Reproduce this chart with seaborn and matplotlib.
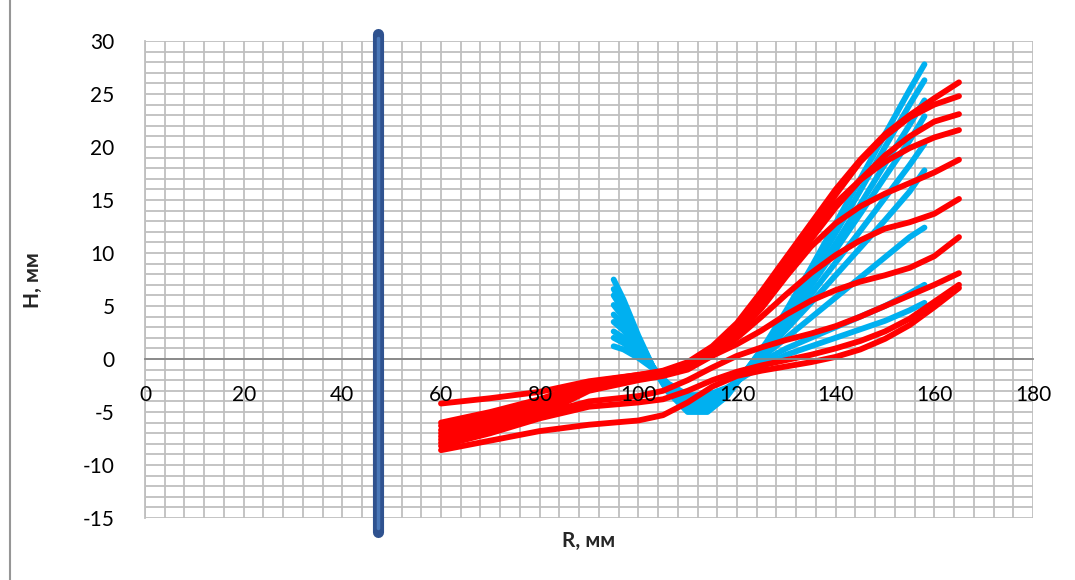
import pandas as pd
import seaborn as sns
import matplotlib.pyplot as plt
from matplotlib.lines import Line2D
from matplotlib.ticker import MultipleLocator

# blue family (start at R=95)
r_blue = [95, 97, 100, 103, 106, 110, 114, 118, 122, 126, 130, 135, 140, 145, 150, 155, 158]
blue_1 = [7.5, 5.6, 2.2, -0.8, -3.1, -5.0, -5.0, -3.5, -1.0, 1.6, 4.6, 8.6, 12.8, 17.0, 21.2, 25.4, 27.8]
blue_2 = [6.6, 5.0, 2.0, -0.8, -3.0, -4.8, -4.8, -3.4, -1.0, 1.4, 4.2, 8.0, 11.9, 15.9, 20.0, 24.0, 26.3]
blue_3 = [6.0, 4.5, 1.8, -0.8, -2.9, -4.6, -4.6, -3.3, -1.0, 1.2, 3.8, 7.3, 10.9, 14.6, 18.4, 22.1, 24.4]
blue_4 = [5.1, 3.9, 1.5, -0.8, -2.8, -4.4, -4.4, -3.2, -1.0, 1.1, 3.6, 6.9, 10.3, 13.7, 17.2, 20.6, 22.9]
blue_5 = [4.2, 3.2, 1.2, -0.8, -2.7, -4.2, -4.2, -3.1, -1.0, 1.0, 3.2, 6.1, 9.1, 12.1, 15.2, 18.3, 20.3]
blue_6 = [3.5, 2.7, 1.0, -0.8, -2.6, -4.0, -4.0, -3.0, -1.0, 0.9, 2.8, 5.3, 7.9, 10.5, 13.1, 15.8, 17.8]
blue_7 = [2.6, 2.0, 0.7, -0.8, -2.5, -3.8, -3.8, -2.9, -1.2, 0.5, 2.0, 3.9, 5.8, 7.7, 9.6, 11.5, 12.4]
blue_8 = [2.0, 1.5, 0.4, -0.9, -2.4, -3.6, -3.6, -2.8, -1.4, 0.0, 1.0, 2.0, 3.0, 4.0, 5.0, 6.2, 7.0]
blue_9 = [1.2, 0.9, 0.1, -0.9, -2.3, -3.4, -3.4, -2.7, -1.5, -0.5, 0.4, 1.2, 2.0, 2.8, 3.6, 4.6, 5.3]

# red family (start at R=60)
r_red = [60, 70, 80, 90, 100, 105, 110, 115, 120, 125, 130, 135, 140, 145, 150, 155, 160, 165]
red_1 = [-6.0, -5.0, -3.8, -2.2, -1.5, -1.1, -0.3, 1.2, 3.4, 6.4, 9.6, 12.8, 16.0, 18.8, 21.2, 23.0, 24.6, 26.1]
red_2 = [-6.3, -5.3, -4.1, -2.3, -1.6, -1.2, -0.5, 1.0, 3.0, 5.8, 8.9, 12.2, 15.5, 18.6, 21.0, 22.8, 24.0, 24.8]
red_3 = [-6.7, -5.6, -4.4, -2.4, -1.7, -1.3, -0.7, 0.7, 2.6, 5.0, 8.0, 11.3, 14.3, 16.9, 19.2, 21.0, 22.4, 23.1]
red_4 = [-7.0, -5.9, -4.7, -2.6, -1.8, -1.4, -0.8, 0.5, 2.4, 5.0, 8.4, 11.9, 14.7, 16.9, 18.6, 19.9, 20.9, 21.6]
red_5 = [-7.3, -6.2, -5.0, -2.8, -1.9, -1.5, -0.9, 0.4, 2.3, 4.8, 7.8, 10.6, 12.8, 14.4, 15.6, 16.6, 17.6, 18.8]
red_6 = [-7.6, -6.5, -5.3, -3.0, -2.0, -1.6, -1.0, 0.3, 2.0, 4.0, 6.1, 8.1, 9.8, 11.2, 12.3, 12.9, 13.7, 15.1]
red_7 = [-4.2, -3.7, -3.1, -2.1, -1.5, -1.2, -0.7, 0.3, 1.4, 2.7, 4.2, 5.5, 6.5, 7.3, 7.9, 8.6, 9.7, 11.5]
red_8 = [-7.9, -6.6, -5.2, -4.0, -3.5, -3.0, -2.0, -0.8, 0.3, 1.1, 1.8, 2.4, 3.1, 4.0, 5.0, 6.0, 7.0, 8.1]
red_9 = [-8.2, -7.0, -5.6, -4.5, -4.1, -3.8, -3.0, -2.0, -1.2, -0.6, -0.1, 0.4, 1.0, 1.7, 2.6, 3.8, 5.4, 7.0]
red_10 = [-8.6, -7.7, -6.8, -6.2, -5.8, -5.3, -4.1, -2.6, -1.6, -1.1, -0.7, -0.3, 0.2, 0.9, 1.9, 3.2, 4.9, 6.7]

wall_r = 47.2

blues = [blue_1, blue_2, blue_3, blue_4, blue_5, blue_6, blue_7, blue_8, blue_9]
reds = [red_1, red_2, red_3, red_4, red_5, red_6, red_7, red_8, red_9, red_10]

rows = []
for i, ys in enumerate(blues):
    for r, h in zip(r_blue, ys):
        rows.append({'R': r, 'H': h, 'curve': f'b{i}'})
df_blue = pd.DataFrame(rows)
rows = []
for i, ys in enumerate(reds):
    for r, h in zip(r_red, ys):
        rows.append({'R': r, 'H': h, 'curve': f'r{i}'})
df_red = pd.DataFrame(rows)

sns.set_style('white')
plt.rcParams['font.family'] = ['Lato', 'DejaVu Sans']
plt.rcParams['axes.unicode_minus'] = False

fig = plt.figure(figsize=(10.75, 5.8), dpi=100)
pos = [145 / 1075, 1 - 518 / 580, (1033 - 145) / 1075, (518 - 41) / 580]
ax = fig.add_axes(pos)

ax.set_xlim(0, 180)
ax.set_ylim(-15, 30)
ax.xaxis.set_major_locator(MultipleLocator(20))
ax.xaxis.set_minor_locator(MultipleLocator(4))
ax.yaxis.set_major_locator(MultipleLocator(5))
ax.yaxis.set_minor_locator(MultipleLocator(1))
ax.grid(which='both', color='#BFBFBF', linewidth=1.3)
ax.set_axisbelow(True)

sns.lineplot(data=df_blue, x='R', y='H', units='curve', estimator=None, sort=False,
             color='#00B0F0', linewidth=4.2, solid_capstyle='round', ax=ax, legend=False)
sns.lineplot(data=df_red, x='R', y='H', units='curve', estimator=None, sort=False,
             color='#FF0000', linewidth=4.2, solid_capstyle='round', ax=ax, legend=False)

# wall
ax.plot([wall_r, wall_r], [30.7, -16.3], color='#2F528F', linewidth=8, solid_capstyle='round',
        clip_on=False, zorder=5)
ax.plot([wall_r, wall_r], [30.3, -15.9], color='#4A78B8', linewidth=2.5, solid_capstyle='round',
        clip_on=False, zorder=6)

for s in ['top', 'right']:
    ax.spines[s].set_visible(False)
ax.spines['left'].set_color('#BFBFBF')
ax.spines['left'].set_linewidth(1.3)
ax.spines['bottom'].set_position(('data', 0))
ax.spines['bottom'].set_color('#868686')
ax.spines['bottom'].set_linewidth(1.3)
ax.tick_params(which='both', length=0, labelbottom=False, labelleft=False)
ax.set_xlabel('')
ax.set_ylabel('')

# overlay axes carrying tick labels above the curves
lab = fig.add_axes(pos, sharex=ax, sharey=ax)
lab.patch.set_visible(False)
lab.grid(False)
for s in lab.spines.values():
    s.set_visible(False)
lab.spines['bottom'].set_position(('data', 0))
lab.tick_params(which='both', length=0)
lab.tick_params(axis='x', labelsize=15, pad=19, labelcolor='black')
lab.tick_params(axis='y', labelsize=15, pad=22, labelcolor='black')
lab.set_xlabel('')
lab.set_ylabel('')

fig.text(589 / 1075, 1 - 541 / 580, 'R, мм', ha='center', va='center', fontsize=15, fontweight='bold')
fig.text(33 / 1075, 1 - 280 / 580, 'H, мм', ha='center', va='center', fontsize=15, fontweight='bold',
         rotation=90)

fig.add_artist(Line2D([10 / 1075, 10 / 1075], [0, 1], color='#969696', linewidth=1.5,
                      transform=fig.transFigure))

fig.savefig('out.png', dpi=100)
